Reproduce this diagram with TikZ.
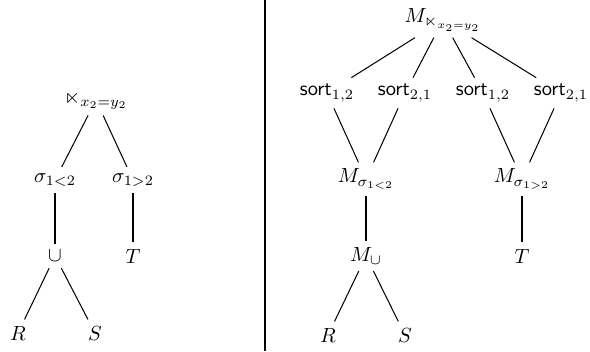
\documentclass[tikz,border=0pt]{standalone}
\usepackage{amssymb}
\begin{document}
\begin{tikzpicture}[x={(0.4878pt,0)}, y={(0,-0.4878pt)},
  op/.style={inner sep=3pt},
  tedge/.style={line width=0.5pt},
  divider/.style={line width=0.6pt}]
\useasboundingbox (0,0) rectangle (590,351);
% plain plan
\node[op] (sj)  at (96,100)  {$\ltimes_{x_2=y_2}$};
\node[op] (sl)  at (55,180)  {$\sigma_{1<2}$};
\node[op] (sg)  at (133,180) {$\sigma_{1>2}$};
\node[op] (un)  at (55,256)  {$\cup$};
\node[op] (t1)  at (133,256) {$T$};
\node[op] (r1)  at (18,333)  {$R$};
\node[op] (s1)  at (95,333)  {$S$};
\draw[tedge] (sj) -- (sl);
\draw[tedge] (sj) -- (sg);
\draw[tedge] (sl) -- (un);
\draw[tedge] (sg) -- (t1);
\draw[tedge] (un) -- (r1);
\draw[tedge] (un) -- (s1);
% separator
\coordinate (dtop) at (265,0);
\coordinate (dbot) at (265,351);
\draw[divider] (dtop) -- (dbot);
% plan with materialised sorts
\node[op] (mj)  at (443,20)  {$M_{\ltimes_{x_2=y_2}}$};
\node[op] (so1) at (327,93)  {$\textsf{sort}_{1,2}$};
\node[op] (so2) at (405,93)  {$\textsf{sort}_{2,1}$};
\node[op] (so3) at (483,93)  {$\textsf{sort}_{1,2}$};
\node[op] (so4) at (561,93)  {$\textsf{sort}_{2,1}$};
\node[op] (ml)  at (366,179) {$M_{\sigma_{1<2}}$};
\node[op] (mg)  at (522,179) {$M_{\sigma_{1>2}}$};
\node[op] (mu)  at (366,256) {$M_{\cup}$};
\node[op] (t2)  at (522,256) {$T$};
\node[op] (r2)  at (328,335) {$R$};
\node[op] (s2)  at (405,335) {$S$};
\draw[tedge] (mj) -- (so1);
\draw[tedge] (mj) -- (so2);
\draw[tedge] (mj) -- (so3);
\draw[tedge] (mj) -- (so4);
\draw[tedge] (so1) -- (ml);
\draw[tedge] (so2) -- (ml);
\draw[tedge] (so3) -- (mg);
\draw[tedge] (so4) -- (mg);
\draw[tedge] (ml) -- (mu);
\draw[tedge] (mg) -- (t2);
\draw[tedge] (mu) -- (r2);
\draw[tedge] (mu) -- (s2);
\end{tikzpicture}
\end{document}
